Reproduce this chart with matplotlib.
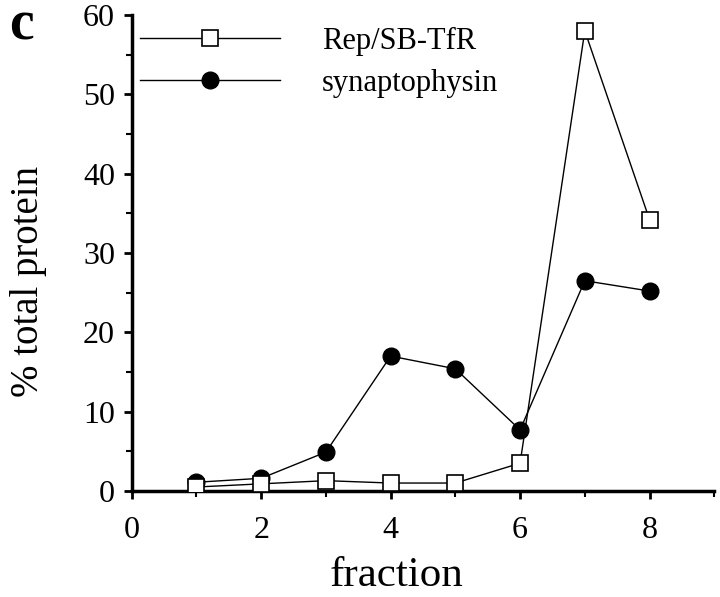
import matplotlib
matplotlib.use("Agg")
import matplotlib.pyplot as plt
from matplotlib.ticker import MultipleLocator

fraction = [1, 2, 3, 4, 5, 6, 7, 8]
rep_sb_tfr = [0.5, 0.9, 1.3, 1.0, 1.0, 3.5, 58.0, 34.2]
synaptophysin = [1.1, 1.6, 4.9, 17.0, 15.4, 7.7, 26.5, 25.2]
x_ticks = [0, 2, 4, 6, 8]
y_ticks = [0, 10, 20, 30, 40, 50, 60]

plt.rcParams['font.family'] = ['Liberation Serif', 'DejaVu Serif']

fig = plt.figure(figsize=(7.2, 5.97), dpi=100)
ax = fig.add_axes([0.183, 0.1776, 0.809, 0.7974])

ax.plot(fraction, synaptophysin, color='black', lw=1.0, marker='o', ms=12,
        mfc='black', mec='black', label='synaptophysin', zorder=3)
ax.plot(fraction, rep_sb_tfr, color='black', lw=1.0, marker='s', ms=11,
        mfc='white', mec='black', mew=1.2, label='Rep/SB-TfR', zorder=4)

ax.set_xlim(0, 9)
ax.set_ylim(0, 60)
ax.set_xticks(x_ticks)
ax.set_yticks(y_ticks)
ax.xaxis.set_minor_locator(MultipleLocator(1))
ax.yaxis.set_minor_locator(MultipleLocator(5))
ax.spines['top'].set_visible(False)
ax.spines['right'].set_visible(False)
for s in ('left', 'bottom'):
    ax.spines[s].set_linewidth(2.5)
ax.tick_params(axis='both', which='major', direction='out', length=6, width=2,
               labelsize=23)
ax.tick_params(axis='x', which='major', pad=12)
ax.tick_params(axis='y', which='major', pad=6)
ax.tick_params(axis='both', which='minor', direction='out', length=4, width=1.5)

ax.set_xlabel('fraction', fontsize=31, va='top')
ax.xaxis.set_label_coords(0.455, -0.137)
ax.set_ylabel('% total protein', fontsize=28)
ax.yaxis.set_label_coords(-0.145, 0.44)

handles, labels = ax.get_legend_handles_labels()
leg = ax.legend(handles[::-1], labels[::-1], loc='upper left',
                bbox_to_anchor=(-0.007, 1.0), frameon=False, fontsize=22,
                handlelength=4.6, handletextpad=1.35, labelspacing=0.42,
                borderaxespad=0.0)

fig.text(0.012, 1 - 40 / 597, 'c', fontsize=40, fontweight='bold',
         va='baseline', ha='left')

fig.savefig('out.png', dpi=100)
